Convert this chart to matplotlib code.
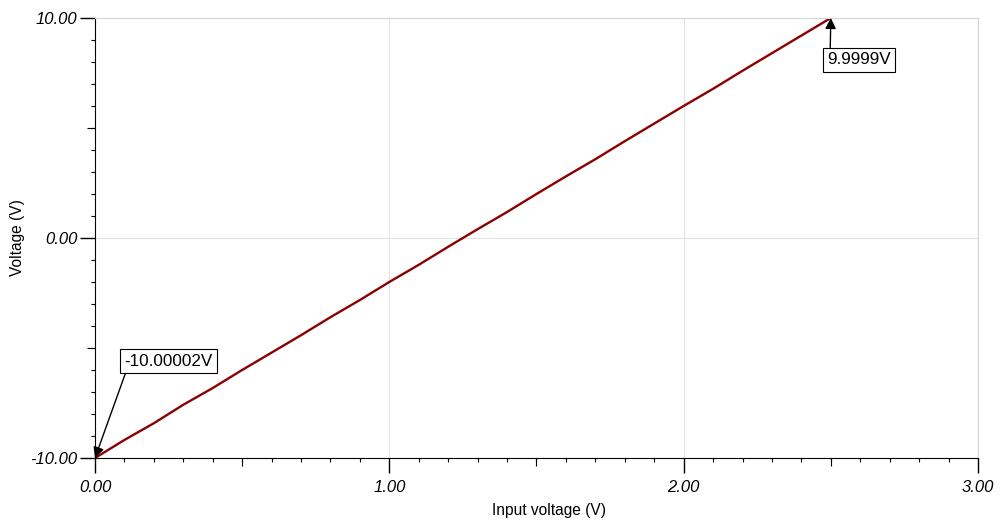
import matplotlib.pyplot as plt
from matplotlib.ticker import MultipleLocator, FormatStrFormatter

plt.rcParams['font.family'] = ['Liberation Sans', 'DejaVu Sans']

# sweep of the input voltage and the resulting output voltage
vin = [0.0, 0.1, 0.2, 0.3, 0.4, 0.5, 0.6, 0.7, 0.8, 0.9, 1.0, 1.1, 1.2,
       1.3, 1.4, 1.5, 1.6, 1.7, 1.8, 1.9, 2.0, 2.1, 2.2, 2.3, 2.4, 2.5]
vout = [-10.0, -9.18, -8.42, -7.58, -6.82, -6.0, -5.21, -4.42, -3.6, -2.82,
        -2.0, -1.22, -0.4, 0.4, 1.18, 2.0, 2.8, 3.58, 4.4, 5.2,
        6.0, 6.78, 7.6, 8.4, 9.2, 9.9999]

marks = [(0.0, -10.0, '-10.00002V', 0.25, -5.6, (0.03, 0.0)),
         (2.5, 9.9999, '9.9999V', 2.595, 8.1, (0.05, 1.0))]

fig = plt.figure(figsize=(10.04, 5.22), dpi=100)
ax = fig.add_axes([0.0946, 0.1226, 0.8795, 0.843])

ax.plot(vin, vout, color='#8b0000', lw=1.7)

ax.set_xlim(0, 3)
ax.set_ylim(-10, 10)
ax.xaxis.set_major_locator(MultipleLocator(1))
ax.xaxis.set_minor_locator(MultipleLocator(0.1))
ax.yaxis.set_major_locator(MultipleLocator(10))
ax.yaxis.set_minor_locator(MultipleLocator(1))
ax.xaxis.set_major_formatter(FormatStrFormatter('%.2f'))
ax.yaxis.set_major_formatter(FormatStrFormatter('%.2f'))

ax.tick_params(which='major', direction='out', length=11, width=1, pad=5,
               labelsize=12)
ax.tick_params(axis='y', which='major', pad=1.5)
ax.tick_params(which='minor', direction='out', length=3, width=0.8)
for lab in ax.get_xticklabels() + ax.get_yticklabels():
    lab.set_fontstyle('italic')

# half-way ticks
sx = ax.secondary_xaxis('bottom')
sx.set_xticks([0.5, 1.5, 2.5])
sx.tick_params(length=6, width=0.8, labelbottom=False)
sx.spines['bottom'].set_visible(False)
sy = ax.secondary_yaxis('left')
sy.set_yticks([-5, 5])
sy.tick_params(length=6, width=0.8, labelleft=False)
sy.spines['left'].set_visible(False)

ax.grid(which='major', color='#e3e3e3', lw=0.8)
ax.spines['top'].set_color('#d6d6d6')
ax.spines['right'].set_color('#d6d6d6')

ax.set_xlabel('Input voltage (V)', fontsize=11.2)
ax.xaxis.set_label_coords(0.514, -0.103)
ax.set_ylabel('Voltage (V)', fontsize=11.2, labelpad=4)

for x, y, txt, tx, ty, rp in marks:
    ax.annotate(txt, xy=(x, y), xytext=(tx, ty), fontsize=12.3,
                ha='center', va='center',
                bbox=dict(boxstyle='square,pad=0.25', fc='white', ec='black', lw=0.8),
                arrowprops=dict(arrowstyle='-|>', color='black', lw=1,
                                mutation_scale=16, relpos=rp, shrinkA=0, shrinkB=0))

fig.savefig('out.png', dpi=100)
